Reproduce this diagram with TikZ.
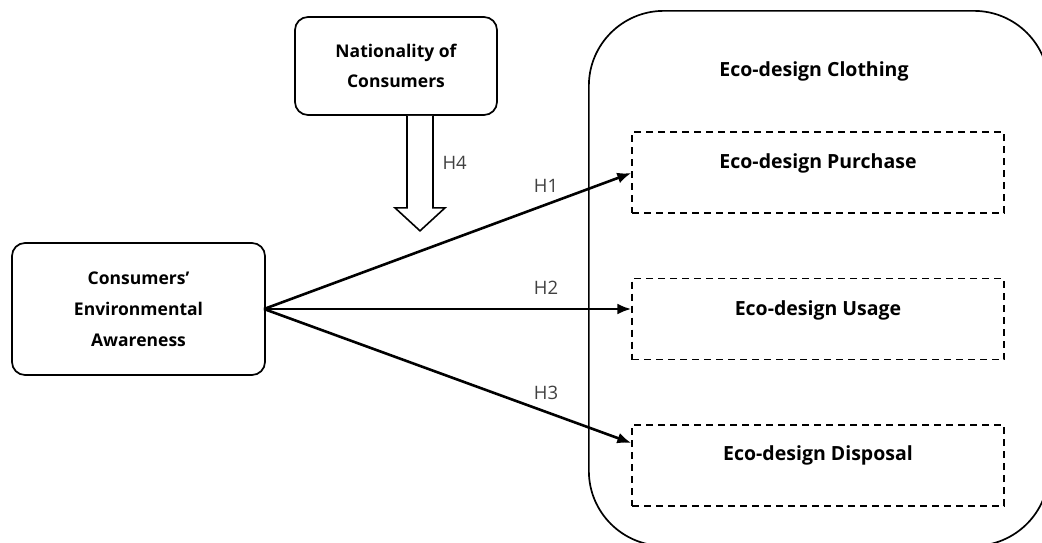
\documentclass[tikz,border=0pt]{standalone}
\usepackage{fontspec}
\setmainfont{Open Sans}
\usetikzlibrary{arrows.meta}
\begin{document}
\begin{tikzpicture}[x=1pt,y=-1pt,
  box/.style={draw,line width=1.7pt,rounded corners=13pt,align=center},
  btxt/.style={font=\fontsize{17.5}{31}\selectfont\bfseries},
  dbox/.style={draw,line width=1.4pt,dash pattern=on 7pt off 5pt,minimum width=372pt,minimum height=81pt},
  dtxt/.style={font=\fontsize{19.5}{24}\selectfont\bfseries},
  hyp/.style={-{Latex[length=14pt,width=11pt]},line width=2.6pt},
  hl/.style={font=\fontsize{18.5}{22}\selectfont,text=black!75}]
\useasboundingbox (0,0) rectangle (1042,542);
\clip (0,0) rectangle (1042,542);
% big container
\node[draw,line width=1.7pt,rounded corners=75pt,minimum width=460pt,minimum height=535pt,anchor=north west] (clo) at (588,10) {};
\node[dtxt] (clot) at (814,71) {Eco-design Clothing};
\node[dbox] (pur) at (818,172.5) {};
\node[dbox] (usa) at (818,319) {};
\node[dbox] (dis) at (818,465.5) {};
\node[dtxt] (purt) at ([yshift=9pt]pur.center) {Eco-design Purchase};
\node[dtxt] (usat) at ([yshift=9pt]usa.center) {Eco-design Usage};
\node[dtxt] (dist) at ([yshift=10pt]dis.center) {Eco-design Disposal};
% left boxes
\node[box,btxt,minimum width=253pt,minimum height=132pt] (cea) at (138.5,309) {Consumers'\\Environmental\\Awareness};
\node[box,btxt,font=\fontsize{17.5}{30}\selectfont\bfseries,minimum width=202pt,minimum height=98pt] (nat) at (396,66) {Nationality of\\Consumers};
% hollow arrow
\draw[line width=1.6pt,line join=miter,fill=white]
  ([xshift=11pt]nat.south) -- ++(0,92) -- ++(-12,0) -- ++(25,23) -- ++(25,-23) -- ++(-12,0) -- ++(0,-92);
\node[hl,anchor=west] (h4l) at (439,163) {H4};
% arrows
\coordinate (o) at (264,309);
\draw[hyp] (o) -- (pur.west |- 0,173);
\draw[hyp] (o) -- (usa.west |- o);
\draw[hyp] (o) -- (dis.west |- 0,443);
\node[hl] (h1) at (546,186) {H1};
\node[hl] (h2) at (546,288) {H2};
\node[hl] (h3) at (546,393) {H3};
\end{tikzpicture}
\end{document}
